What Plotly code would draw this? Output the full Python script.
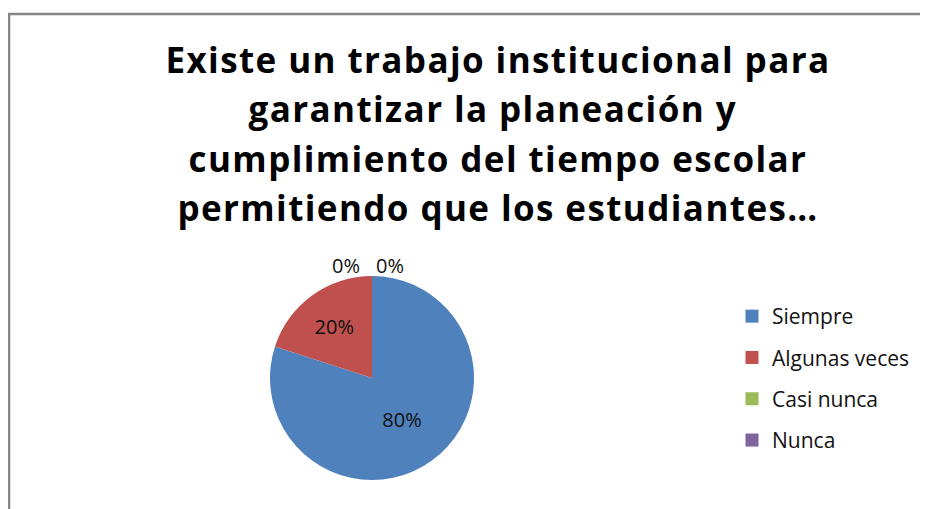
import plotly.graph_objects as go

categories = ["Siempre", "Algunas veces", "Casi nunca", "Nunca"]
values = [80, 20, 0, 0]
colors = ["#4F81BD", "#C0504D", "#9BBB59", "#8064A2"]

title_lines = [
    "Existe un trabajo institucional para",
    "garantizar la planeación y ",
    "cumplimiento del tiempo escolar",
    "permitiendo que los estudiantes…",
]

W, H = 928, 509
OFF = 8  # page body margin of the browser


def px(x):
    return (x - OFF) / W


def py(y):
    return 1 - (y - OFF) / H


total = sum(values)
pct = ["{:.0%}".format(v / total) for v in values]

fig = go.Figure()

# pie centred near (372, 377) on screen
cx, cy, d = 372, 378, 204
fig.add_trace(go.Pie(
    labels=categories,
    values=values,
    marker=dict(colors=colors, line=dict(width=0)),
    sort=False,
    direction="clockwise",
    rotation=0,
    text=[p if v > 0 else "" for p, v in zip(pct, values)],
    textinfo="text",
    textposition="inside",
    textfont=dict(family="Open Sans", size=20, color="#111111"),
    insidetextorientation="horizontal",
    showlegend=False,
    hoverinfo="label+percent",
    domain=dict(x=[px(cx - d / 2), px(cx + d / 2)],
                y=[py(cy + d / 2), py(cy - d / 2)]),
))

# zero slices get their labels just above the top of the pie, side by side
zero_idx = [i for i, v in enumerate(values) if v == 0]
annotations = []
for k, i in enumerate(zero_idx):
    annotations.append(dict(
        text=pct[i], showarrow=False, xref="paper", yref="paper",
        x=px(cx - 26 + 44 * k), y=py(cy - d / 2 - 11),
        xanchor="center", yanchor="middle",
        font=dict(family="Open Sans", size=20, color="#111111"),
    ))

# legend entries, one trace each so the spacing can be opened up
for name, col in zip(categories, colors):
    fig.add_trace(go.Scatter(
        x=[None], y=[None], mode="markers", name=name, legendgroup=name,
        marker=dict(symbol="square", size=13, color=col),
    ))

title_html = "<br>".join(
    '<span style="font-size:35px;letter-spacing:1.4px">{}</span>'.format(t)
    for t in title_lines
)

fig.update_layout(
    width=W, height=H,
    margin=dict(l=0, r=0, t=0, b=0),
    paper_bgcolor="white", plot_bgcolor="white",
    xaxis=dict(visible=False), yaxis=dict(visible=False),
    title=dict(
        text=title_html,
        x=px(498), xanchor="center", xref="paper",
        y=py(73), yanchor="top", yref="paper",
        font=dict(family="Open Sans", size=38, color="#000000", weight="bold"),
    ),
    legend=dict(
        x=px(732), y=py(296), xanchor="left", yanchor="top",
        font=dict(family="Open Sans", size=21, color="#111111"),
        tracegroupgap=11, traceorder="grouped",
        bgcolor="rgba(0,0,0,0)",
    ),
    annotations=annotations,
    shapes=[dict(
        type="rect", xref="paper", yref="paper",
        x0=px(9), x1=1.05, y0=-0.05, y1=py(14),
        line=dict(color="#868686", width=2.5),
    )],
)

fig.write_html("out.html")
